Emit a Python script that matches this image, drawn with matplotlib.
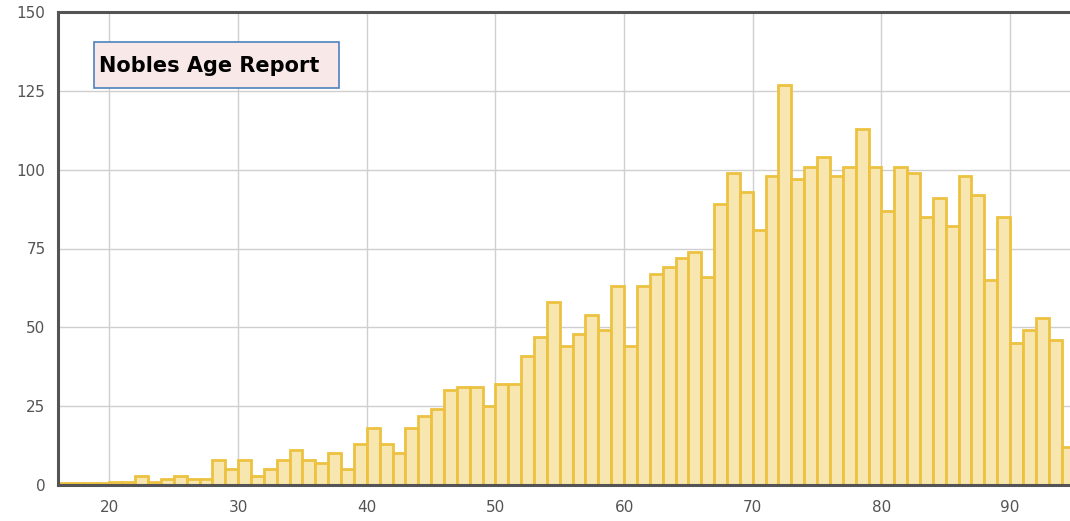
import numpy as np
import matplotlib
matplotlib.use('Agg')
import matplotlib.pyplot as plt
from matplotlib.patches import Rectangle

# age -> number of nobles
ages = list(range(16, 95))
counts = [0.5, 0.5, 0.5, 0.5,
          1, 1, 3, 1, 2, 3, 2, 2, 8, 5,
          8, 3, 5, 8, 11, 8, 7, 10, 5, 13,
          18, 13, 10, 18, 22, 24, 30, 31, 31, 25,
          32, 32, 41, 47, 58, 44, 48, 54, 49, 63,
          44, 63, 67, 69, 72, 74, 66, 89, 99, 93,
          81, 98, 127, 97, 101, 104, 98, 101, 113, 101,
          87, 101, 99, 85, 91, 82, 98, 92, 65, 85,
          45, 49, 53, 46, 12]
xticks = [20, 30, 40, 50, 60, 70, 80, 90]
yticks = [0, 25, 50, 75, 100, 125, 150]
title = 'Nobles Age Report'

W, H = 1070, 521
fig = plt.figure(figsize=(W / 100, H / 100), dpi=100)
ax = fig.add_axes([58 / W, (H - 485) / H, (W - 58) / W, (485 - 12) / H])

ax.bar(ages, counts, width=1, align='edge', color='#F8E6B0',
       edgecolor='#EDC240', linewidth=2.0, zorder=3)

ax.set_xlim(16, 94.66)
ax.set_ylim(0, 150)
ax.set_xticks(xticks)
ax.set_yticks(yticks)
ax.grid(True, color='#cfcfcf', linewidth=1, zorder=0)
ax.set_axisbelow(True)
ax.tick_params(length=0, labelsize=11, colors='#545454', pad=9)
ax.tick_params(axis='x', pad=11)

for s in ['top', 'left', 'bottom']:
    ax.spines[s].set_color('#545454')
    ax.spines[s].set_linewidth(2.2)
    ax.spines[s].set_zorder(5)
ax.spines['right'].set_visible(False)

# title box
fig.patches.append(Rectangle((94 / W, (H - 88) / H), 245 / W, 46 / H,
                             transform=fig.transFigure, facecolor='#F8E8E8',
                             edgecolor='#4F81BD', linewidth=1.2, zorder=10))
fig.text(99 / W, (H - 66) / H, title, fontsize=15, fontweight='bold',
         color='black', ha='left', va='center', zorder=11)

fig.savefig('out.png', dpi=100)
